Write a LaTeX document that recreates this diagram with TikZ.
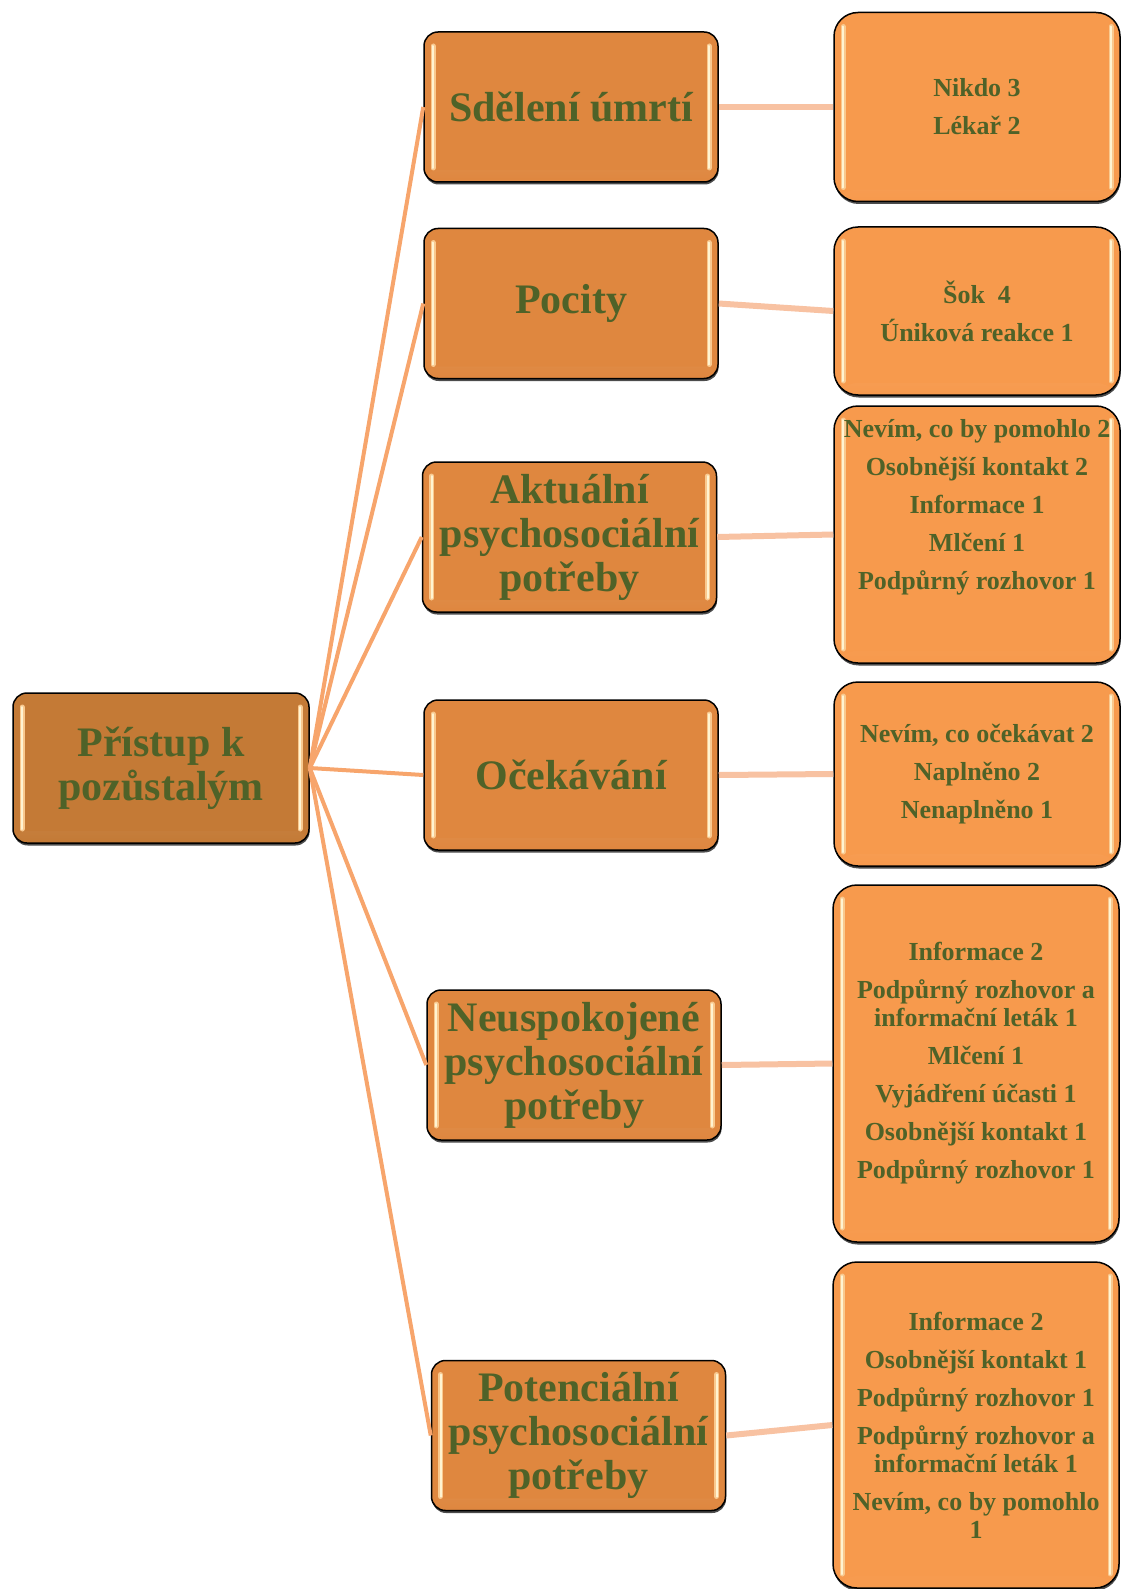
\documentclass[tikz,border=0pt]{standalone}
\usepackage{fontspec}
\setmainfont{Liberation Serif}
\usetikzlibrary{positioning, shadows, fadings}
\definecolor{rootFill}{HTML}{C47A36}
\definecolor{topicFill}{HTML}{DF873F}
\definecolor{leafFill}{HTML}{F79A4D}
\definecolor{labelGreen}{HTML}{4F6228}
\definecolor{fanLine}{HTML}{F7A56C}
\definecolor{leafLine}{HTML}{F8C2A2}
\definecolor{glossOuter}{HTML}{F9C98F}
\definecolor{glossInner}{HTML}{FFF4D2}
\newcommand*{\topicWidth}{294pt}
\newcommand*{\leafWidth}{286pt}
\tikzset{
    gloss/.style    = {line width=#1, line cap=round},
    glossy/.style   = {path picture={
        \fill[white, fill opacity=0.35, path fading=south] (path picture bounding box.south west) rectangle ([yshift=12pt]path picture bounding box.south east);
        \foreach \side/\dx in {west/9pt, east/-9pt}{
            \draw[gloss=5pt, glossOuter] ([xshift=\dx, yshift=-14pt]path picture bounding box.north \side) -- ([xshift=\dx, yshift=14pt]path picture bounding box.south \side);
            \draw[gloss=2pt, glossInner] ([xshift=\dx, yshift=-14pt]path picture bounding box.north \side) -- ([xshift=\dx, yshift=14pt]path picture bounding box.south \side);
        }}},
    box/.style      = {draw=black, line width=1.5pt, align=center, text=labelGreen, inner sep=2pt, glossy,
                       drop shadow={shadow xshift=0.6pt, shadow yshift=-2.5pt, fill=black!70, opacity=1}},
    rootbox/.style  = {box, fill=rootFill, rounded corners=14pt, minimum width=296pt, minimum height=150pt,
                       font=\fontsize{42}{44}\selectfont\bfseries},
    topic/.style    = {box, fill=topicFill, rounded corners=14pt, minimum width=\topicWidth, minimum height=150pt,
                       font=\fontsize{42}{44}\selectfont\bfseries},
    leaf/.style     = {box, fill=leafFill, rounded corners=24pt, minimum width=\leafWidth, minimum height=#1,
                       font=\fontsize{26}{28}\selectfont\bfseries},
    fan/.style      = {draw=fanLine, line width=4pt},
    link/.style     = {draw=leafLine, line width=6pt}
}
\begin{document}
\begin{tikzpicture}
	\useasboundingbox (0pt,0pt) rectangle (1120pt,-1589pt);
	\node (pristup) [rootbox] at (161pt,-768pt) {Přístup k\\pozůstalým};

	\node (sdeleni)      [topic] at (571pt,-107pt) {Sdělení úmrtí};
	\node (pocity)       [topic, below=45pt of sdeleni] {Pocity};
	\node (aktualni)     [topic, below=82pt of pocity, xshift=-1.5pt] {Aktuální\\psychosociální\\potřeby};
	\node (ocekavani)    [topic, below=86.5pt of aktualni, xshift=1.5pt] {Očekávání};
	\node (neuspokojene) [topic, below=138.5pt of ocekavani, xshift=3pt] {Neuspokojené\\psychosociální\\potřeby};
	\node (potencialni)  [topic, below=219pt of neuspokojene, xshift=4.5pt] {Potenciální\\psychosociální\\potřeby};

	\node (sdeleniLeaf)      [leaf=189pt, right=114.5pt of sdeleni] {Nikdo 3\\[10pt]Lékař 2};
	\node (pocityLeaf)       [leaf=168pt, right=114.5pt of pocity, yshift=-7.5pt] {Šok\ \ 4\\[10pt]Úniková reakce 1};
	\node (aktualniLeaf)     [leaf=257pt, right=116pt of aktualni, yshift=2.5pt] {Nevím, co by pomohlo 2\\[10pt]Osobnější kontakt 2\\[10pt]Informace 1\\[10pt]Mlčení 1\\[10pt]Podpůrný rozhovor 1\\[32pt]\mbox{}};
	\node (ocekavaniLeaf)    [leaf=184pt, right=114.5pt of ocekavani, yshift=1pt] {Nevím, co očekávat 2\\[10pt]Naplněno 2\\[10pt]Nenaplněno 1};
	\node (neuspokojeneLeaf) [leaf=357pt, right=110.5pt of neuspokojene, yshift=1.5pt] {Informace 2\\[10pt]Podpůrný rozhovor a\\informační leták 1\\[10pt]Mlčení 1\\[10pt]Vyjádření účasti 1\\[10pt]Osobnější kontakt 1\\[10pt]Podpůrný rozhovor 1};
	\node (potencialniLeaf)  [leaf=326pt, right=106pt of potencialni, yshift=10.5pt] {Informace 2\\[10pt]Osobnější kontakt 1\\[10pt]Podpůrný rozhovor 1\\[10pt]Podpůrný rozhovor a\\informační leták 1\\[10pt]Nevím, co by pomohlo\\1};

	\foreach \topicName in {sdeleni, pocity, aktualni, ocekavani, neuspokojene, potencialni}{
		\draw [fan] (pristup.east) -- (\topicName.west);
		\draw [link] (\topicName.east) -- (\topicName Leaf.west);
	}
\end{tikzpicture}
\end{document}
